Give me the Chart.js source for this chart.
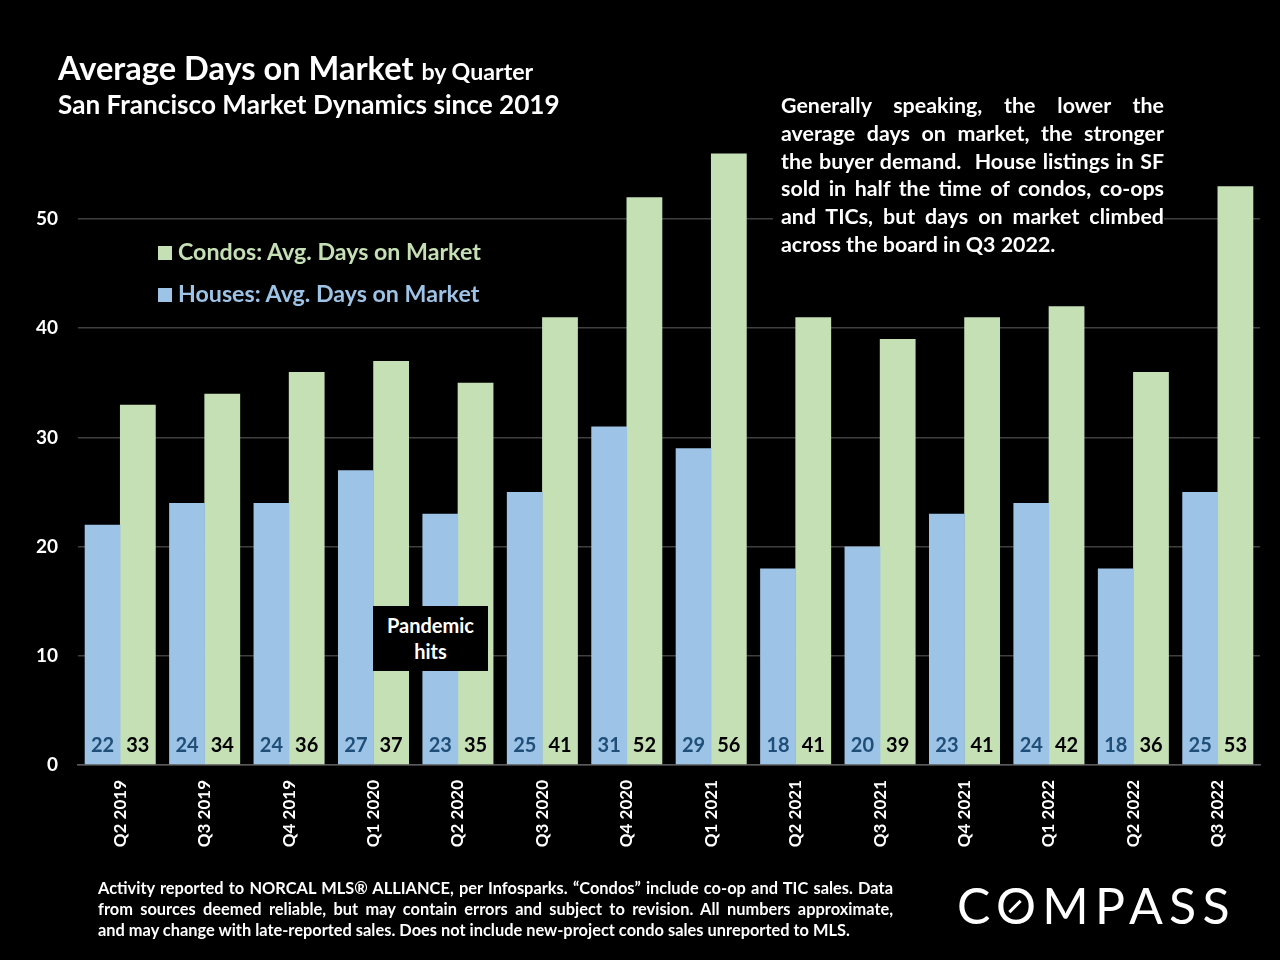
<!DOCTYPE html>
<html>
<head>
<meta charset="utf-8">
<title>Average Days on Market</title>
<script src="https://cdn.jsdelivr.net/npm/chart.js@4"></script>
<style>
  html, body { margin: 0; padding: 0; background: #000; }
  #wrap { position: relative; width: 1280px; height: 960px; overflow: hidden; background: #000; font-family: Lato, sans-serif; font-weight: 700; color: #fff; }
  #chart { position: absolute; left: 0; top: 0; }
  .txt { position: absolute; white-space: nowrap; }
  .title { left: 58px; top: 49px; font-size: 32.6px; line-height: 38px; }
  .title small { font-size: 23.2px; }
  .subtitle { left: 58px; top: 88px; font-size: 26.15px; line-height: 32px; }
  .legend { left: 158px; font-size: 23.2px; line-height: 30px; }
  .legend i { display: inline-block; width: 14px; height: 14px; margin-right: 6px; }
  .note { position: absolute; left: 773px; top: 92px; width: 391px; padding-left: 8px; box-sizing: border-box; background: #000; font-size: 21.4px; line-height: 27.8px; }
  .note span, .foot span { display: block; text-align: justify; text-align-last: justify; white-space: nowrap; }
  .note span.end, .foot span.end { text-align-last: left; }
  .foot { position: absolute; left: 98px; top: 877px; width: 795px; font-size: 16.4px; line-height: 21px; }
  .callout { position: absolute; left: 373px; top: 606px; width: 115px; height: 65px; background: #000; text-align: center; font-size: 20px; line-height: 25.5px; padding-top: 7px; box-sizing: border-box; }
  .logo { left: 957px; top: 876px; font-family: Lato, sans-serif; font-weight: 400; font-size: 50px; line-height: 58px; letter-spacing: 6.3px; }
  .slash { position: absolute; left: 1007px; top: 905px; width: 16px; height: 3px; background: #fff; transform: rotate(-45deg); }
</style>
</head>
<body>
<div id="wrap">
  <canvas id="chart" width="1280" height="960"></canvas>
  <div class="txt title">Average Days on Market <small>by Quarter</small></div>
  <div class="txt subtitle">San Francisco Market Dynamics since 2019</div>
  <div class="txt legend" style="top:236px;color:#c5e0b4"><i style="background:#c5e0b4"></i>Condos: Avg. Days on Market</div>
  <div class="txt legend" style="top:278px;color:#9dc3e6"><i style="background:#9dc3e6"></i>Houses: Avg. Days on Market</div>
  <div class="note">
    <span>Generally speaking, the lower the</span>
    <span>average days on market, the stronger</span>
    <span>the buyer demand. &nbsp;House listings in SF</span>
    <span>sold in half the time of condos, co-ops</span>
    <span>and TICs, but days on market climbed</span>
    <span class="end">across the board in Q3 2022.</span>
  </div>
  <div class="callout">Pandemic<br>hits</div>
  <div class="foot">
    <span>Activity reported to NORCAL MLS® ALLIANCE, per Infosparks. “Condos” include co-op and TIC sales. Data</span>
    <span>from sources deemed reliable, but may contain errors and subject to revision. All numbers approximate,</span>
    <span class="end">and may change with late-reported sales. Does not include new-project condo sales unreported to MLS.</span>
  </div>
  <div class="txt logo">COMPASS</div>
  <div class="slash"></div>
</div>
<script>
// Values
const quarters = ["Q2 2019", "Q3 2019", "Q4 2019", "Q1 2020", "Q2 2020", "Q3 2020", "Q4 2020", "Q1 2021", "Q2 2021", "Q3 2021", "Q4 2021", "Q1 2022", "Q2 2022", "Q3 2022"];
const housesDays = [22, 24, 24, 27, 23, 25, 31, 29, 18, 20, 23, 24, 18, 25];
const condosDays = [33, 34, 36, 37, 35, 41, 52, 56, 41, 39, 41, 42, 36, 53];

// Numbers sitting at the foot of each bar
const baseLabels = {
  id: "baseLabels",
  afterDatasetsDraw(chart) {
    const ctx = chart.ctx;
    const y = chart.scales.y.getPixelForValue(0) - 19;
    ctx.save();
    ctx.font = "700 20px Lato";
    ctx.textAlign = "center";
    ctx.textBaseline = "middle";
    chart.data.datasets.forEach((ds, i) => {
      ctx.fillStyle = ds.labelColor;
      chart.getDatasetMeta(i).data.forEach((bar, j) => {
        ctx.fillText(ds.data[j], bar.x, y);
      });
    });
    ctx.restore();
  },
};

new Chart(document.getElementById("chart"), {
  type: "bar",
  data: {
    labels: quarters,
    datasets: [
      { label: "Houses: Avg. Days on Market", data: housesDays, backgroundColor: "#9dc3e6", labelColor: "#1f4e79" },
      { label: "Condos: Avg. Days on Market", data: condosDays, backgroundColor: "#c5e0b4", labelColor: "#000" },
    ],
  },
  options: {
    responsive: false,
    animation: false,
    devicePixelRatio: 1,
    layout: { padding: { top: 142.56, right: 20, left: 0, bottom: 0 } },
    // slight overlap hides the seam between the two bars of a group
    datasets: { bar: { categoryPercentage: 0.835, barPercentage: 1.015 } },
    plugins: { legend: { display: false }, tooltip: { enabled: false } },
    scales: {
      x: {
        afterFit(scale) { scale.height = 195; },
        grid: { display: false },
        border: { color: "#5a5a5a", width: 1.5 },
        ticks: { color: "#fff", font: { family: "Lato", size: 17, weight: "700" }, minRotation: 90, maxRotation: 90, autoSkip: false, padding: 7 },
      },
      y: {
        min: 0,
        max: 57,
        afterFit(scale) { scale.width = 78; },
        grid: { color: "#404040", lineWidth: 1.5, drawTicks: false },
        border: { display: false },
        ticks: { stepSize: 10, includeBounds: false, color: "#fff", font: { family: "Lato", size: 19, weight: "700" }, padding: 20 },
      },
    },
  },
  plugins: [baseLabels],
});
</script>
</body>
</html>
